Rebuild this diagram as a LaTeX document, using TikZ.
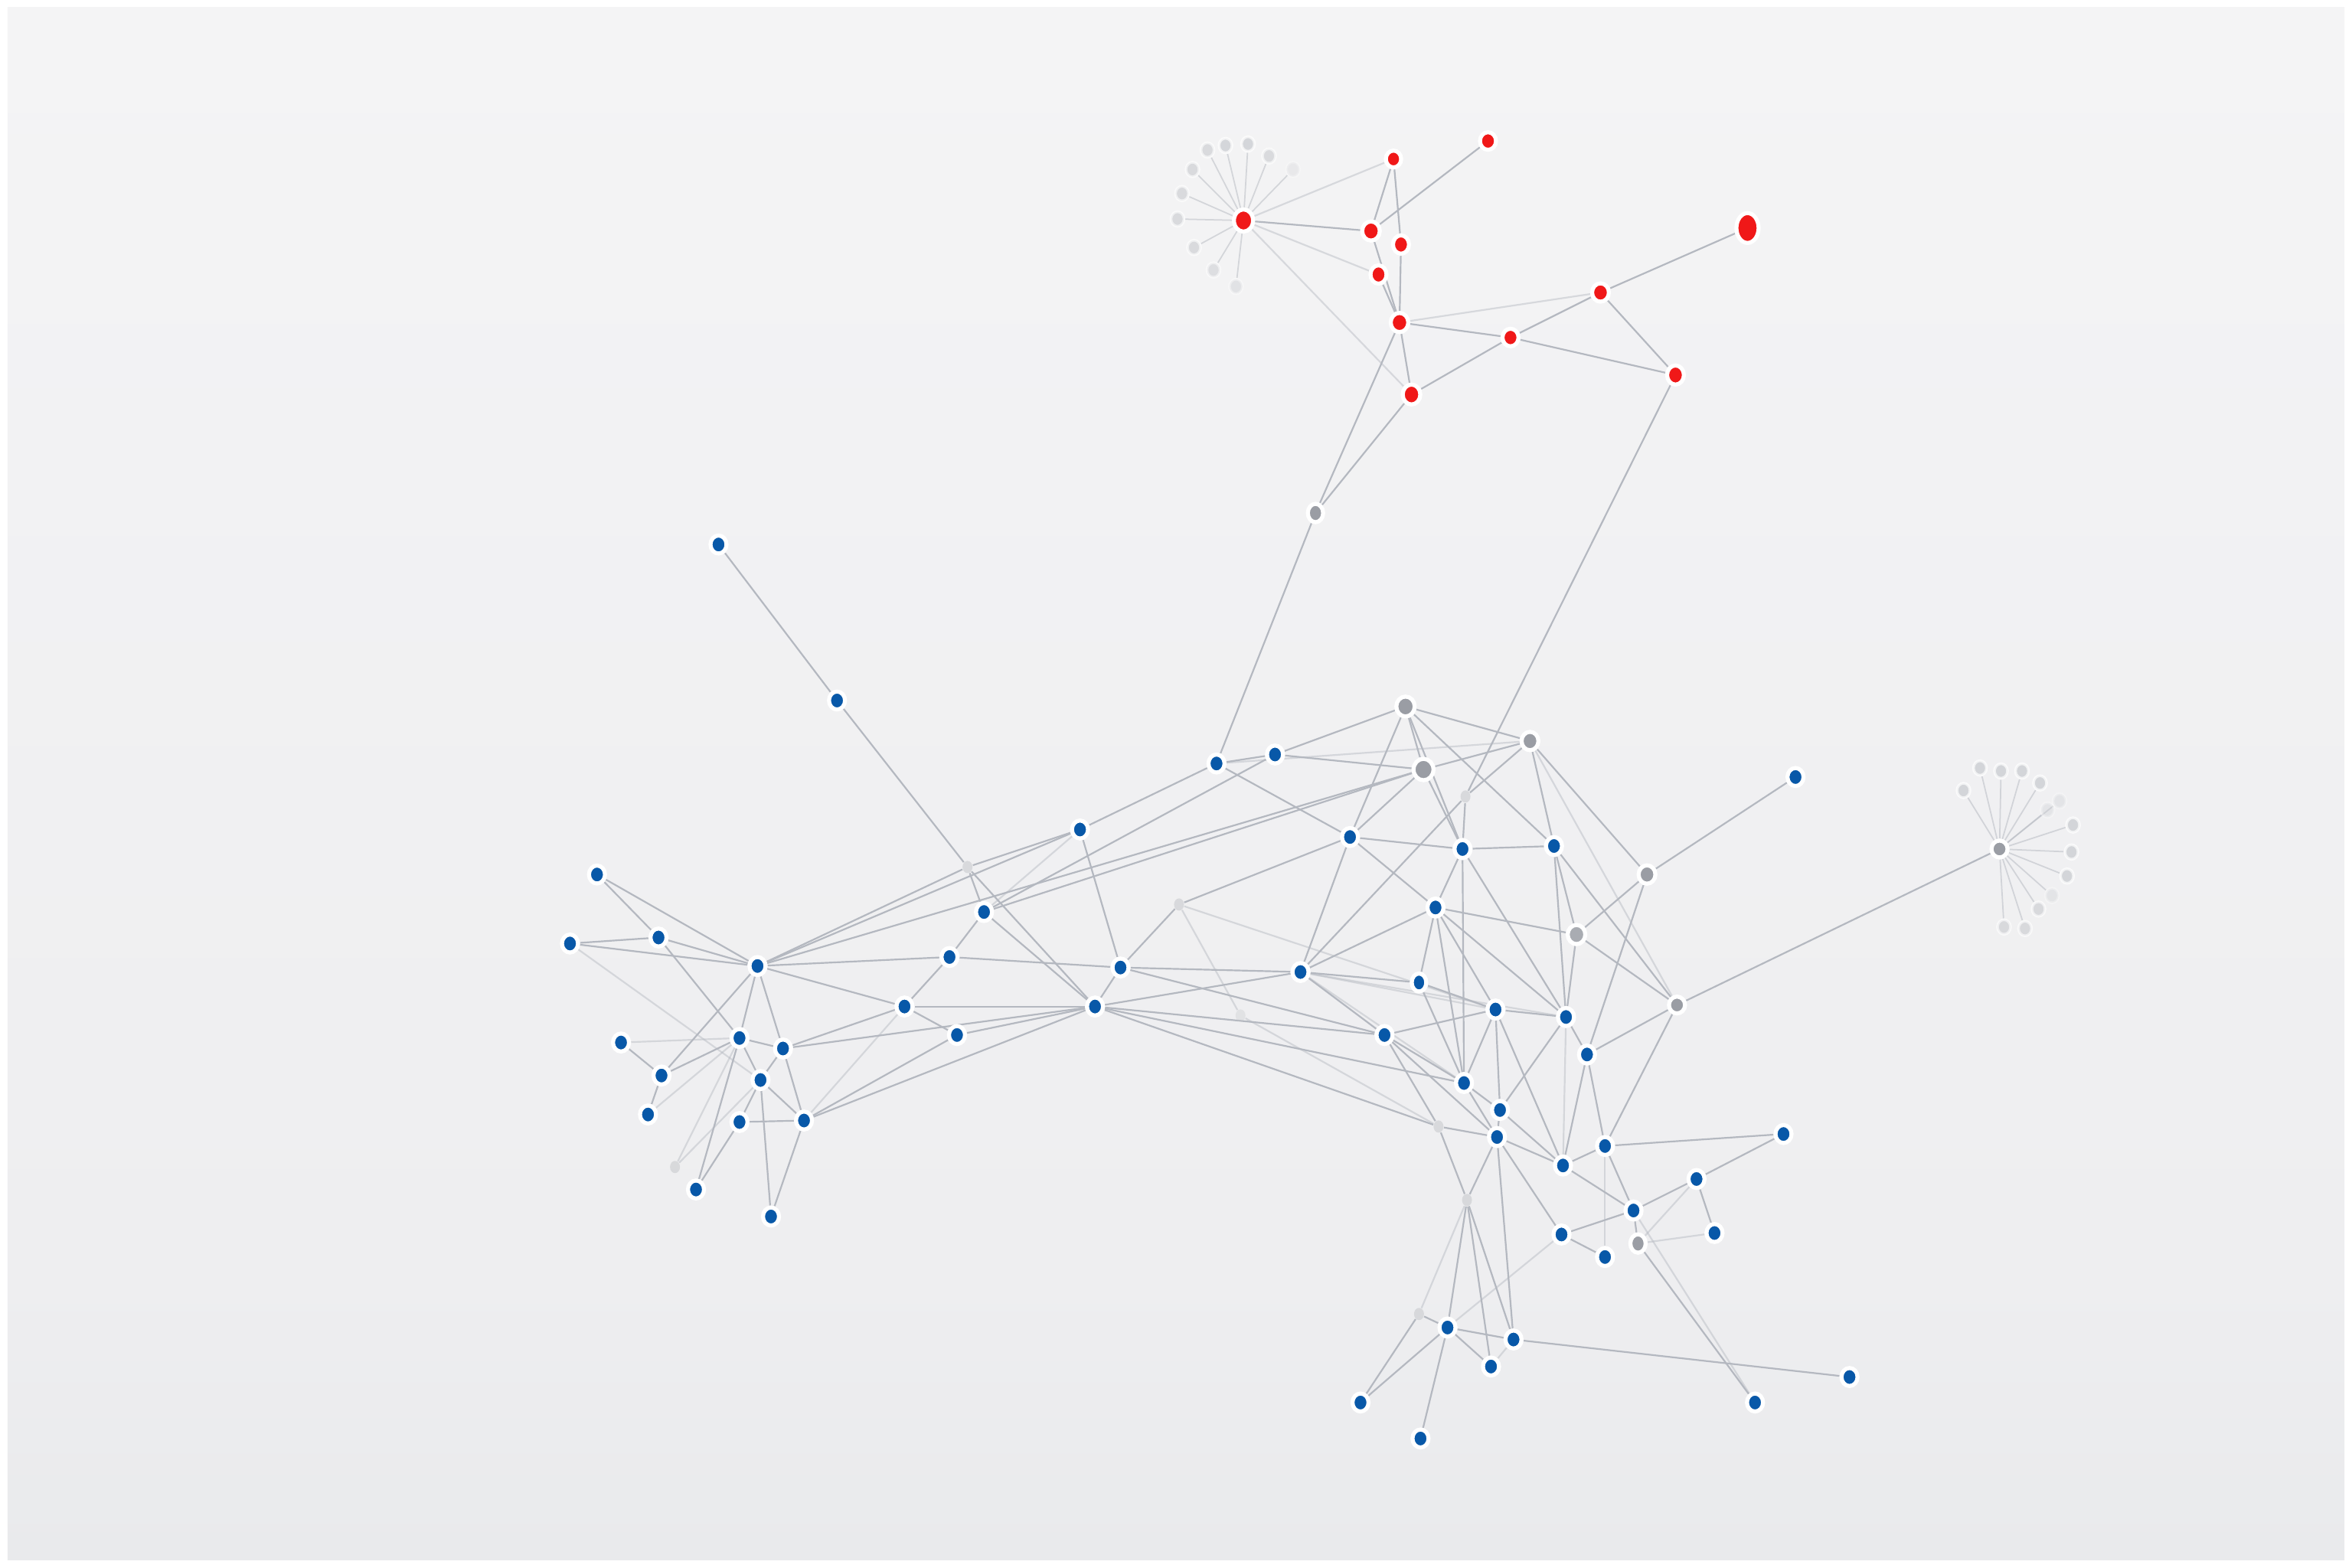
\documentclass[tikz,border=0pt]{standalone}
\usetikzlibrary{shapes.geometric}
\definecolor{netblue}{RGB}{8,88,168}
\definecolor{netred}{RGB}{240,24,24}
\definecolor{netgray}{RGB}{154,157,164}
\definecolor{edgegray}{RGB}{180,184,192}
\definecolor{fadegray}{RGB}{200,202,207}
\definecolor{bgtop}{RGB}{244,244,245}
\definecolor{bgmid}{RGB}{238,238,240}
\definecolor{bglight}{RGB}{243,243,244}
\definecolor{bgbot}{RGB}{233,234,236}
\pgfdeclarelayer{bg}
\pgfdeclarelayer{edges}
\pgfsetlayers{bg,edges,main}

\begin{document}
\begin{tikzpicture}[x=0.019592cm, y=-0.019592cm,
    bnode/.style={ellipse, inner sep=0pt, fill=netblue, draw=white, line width=1.5pt,
      minimum width=0.21cm, minimum height=0.235cm},
    rnode/.style={bnode, fill=netred, minimum width=0.23cm, minimum height=0.25cm},
    gnode/.style={bnode, fill=netgray, minimum width=0.22cm, minimum height=0.24cm},
    ghost/.style={ellipse, inner sep=0pt, fill=netgray!60, opacity=0.5,
      minimum width=0.13cm, minimum height=0.16cm},
    fannode/.style={ellipse, inner sep=0pt, fill=fadegray, draw=white, line width=1pt,
      minimum width=0.17cm, minimum height=0.19cm},
    link/.style={draw=edgegray, line width=0.62pt},
    flink/.style={link, opacity=0.45},
    fanlink/.style={draw=edgegray, line width=0.5pt, opacity=0.5}
  ]
  \useasboundingbox (0,0) rectangle (1568,1045);

  % Background
  \begin{pgfonlayer}{bg}
    \fill[white] (0,0) rectangle (1568,1045);
    \shade[top color=bgtop, bottom color=bgmid] (5,5) rectangle (1563,850);
    \shade[top color=bgmid, middle color=bglight, bottom color=bgbot] (5,850) rectangle (1563,1040);
  \end{pgfonlayer}

  % Red cluster
  \node[rnode, minimum width=0.25cm, minimum height=0.29cm] (r1) at (829,147) {};
  \node[rnode, minimum width=0.2cm, minimum height=0.22cm]  (r2) at (929,106) {};
  \node[rnode, minimum width=0.21cm, minimum height=0.23cm] (r3) at (992,94) {};
  \node[rnode] (r4) at (914,154) {};
  \node[rnode, minimum width=0.21cm, minimum height=0.24cm] (r5) at (934,163) {};
  \node[rnode, minimum width=0.21cm, minimum height=0.24cm] (r6) at (919,183) {};
  \node[rnode] (r7) at (933,215) {};
  \node[rnode, minimum width=0.21cm, minimum height=0.23cm] (r8) at (1007,225) {};
  \node[rnode, minimum width=0.22cm, minimum height=0.24cm] (r9) at (1067,195) {};
  \node[rnode, minimum width=0.29cm, minimum height=0.39cm] (r10) at (1165,152) {};
  \node[rnode, minimum width=0.22cm, minimum height=0.25cm] (r11) at (1117,250) {};
  \node[rnode, minimum width=0.23cm, minimum height=0.26cm] (r12) at (941,263) {};

  % Gray hubs
  \node[gnode, minimum width=0.2cm, minimum height=0.24cm]  (g1) at (877,342) {};
  \node[gnode, minimum width=0.24cm, minimum height=0.26cm] (g2) at (937,471) {};
  \node[gnode, minimum width=0.26cm, minimum height=0.28cm] (g3) at (949,513) {};
  \node[gnode] (g4) at (1020,494) {};
  \node[gnode] (g5) at (1098,583) {};
  \node[gnode, fill=netgray!85, minimum width=0.23cm, minimum height=0.25cm] (g6) at (1051,623) {};
  \node[gnode, minimum width=0.21cm, minimum height=0.22cm] (g7) at (1118,670) {};
  \node[gnode, minimum width=0.21cm, minimum height=0.22cm] (g8) at (1333,566) {};
  \node[gnode, minimum width=0.2cm, minimum height=0.24cm]  (g9) at (1092,829) {};

  % Faded nodes
  \node[ghost] (gf1) at (645,578) {};
  \node[ghost] (gf2) at (786,603) {};
  \node[ghost] (gf3) at (977,531) {};
  \node[ghost] (gf4) at (959,751) {};
  \node[ghost] (gf5) at (978,800) {};
  \node[ghost] (gf6) at (946,876) {};
  \node[ghost, opacity=0.3] (gf7) at (827,677) {};
  \node[ghost] (Lg)  at (450,778) {};

  % Left cluster
  \node[bnode] (a1) at (479,363) {};
  \node[bnode] (a2) at (558,467) {};
  \node[bnode] (L1) at (398,583) {};
  \node[bnode] (L2) at (380,629) {};
  \node[bnode] (L3) at (439,625) {};
  \node[bnode] (L4) at (505,644) {};
  \node[bnode] (L5) at (414,695) {};
  \node[bnode] (L6) at (493,692) {};
  \node[bnode] (L7) at (522,699) {};
  \node[bnode] (L8) at (441,717) {};
  \node[bnode] (L9) at (507,720) {};
  \node[bnode] (L10) at (432,743) {};
  \node[bnode] (L11) at (493,748) {};
  \node[bnode] (L12) at (536,747) {};
  \node[bnode] (L13) at (464,793) {};
  \node[bnode] (L14) at (514,811) {};

  % Centre
  \node[bnode] (c1) at (720,553) {};
  \node[bnode] (c2) at (656,608) {};
  \node[bnode] (c3) at (633,638) {};
  \node[bnode] (c4) at (603,671) {};
  \node[bnode] (c5) at (638,690) {};
  \node[bnode] (c6) at (730,671) {};
  \node[bnode] (c7) at (747,645) {};
  \node[bnode] (c8) at (811,509) {};
  \node[bnode] (c9) at (850,503) {};
  \node[bnode] (c10) at (867,648) {};
  \node[bnode] (d1) at (900,558) {};
  \node[bnode] (d2) at (975,566) {};
  \node[bnode] (d3) at (1036,564) {};
  \node[bnode] (d4) at (1197,518) {};
  \node[bnode] (d5) at (957,605) {};
  \node[bnode, minimum width=0.19cm] (d6) at (946,655) {};

  % Lower right
  \node[bnode] (e1) at (923,690) {};
  \node[bnode] (e2) at (997,673) {};
  \node[bnode] (e3) at (1044,678) {};
  \node[bnode] (e4) at (1058,703) {};
  \node[bnode] (e5) at (976,722) {};
  \node[bnode] (e6) at (1000,740) {};
  \node[bnode] (e7) at (998,758) {};
  \node[bnode] (e8) at (1070,764) {};
  \node[bnode] (e9) at (1042,777) {};
  \node[bnode] (e10) at (1189,756) {};
  \node[bnode] (e11) at (1131,786) {};
  \node[bnode] (e12) at (1089,807) {};
  \node[bnode] (e13) at (1143,822) {};
  \node[bnode] (e14) at (1041,823) {};
  \node[bnode] (e15) at (1070,838) {};

  % Bottom
  \node[bnode] (f1) at (965,885) {};
  \node[bnode] (f2) at (1009,893) {};
  \node[bnode] (f3) at (994,911) {};
  \node[bnode] (f4) at (907,935) {};
  \node[bnode] (f5) at (947,959) {};
  \node[bnode] (f6) at (1170,935) {};
  \node[bnode] (f7) at (1233,918) {};

  % Fans
  \foreach \i/\x/\y/\o in {1/817/97/0.7, 2/832/96/0.7, 3/846/104/0.6, 4/805/100/0.6,
      5/795/113/0.6, 6/788/129/0.6, 7/785/146/0.6, 8/796/165/0.6, 9/809/180/0.5,
      10/824/191/0.4, 11/862/113/0.25}
    \node[fannode, opacity=\o] (rf\i) at (\x,\y) {};
  \foreach \i/\x/\y/\o in {1/1309/527/0.7, 2/1320/512/0.7, 3/1334/514/0.7, 4/1348/514/0.7,
      5/1360/522/0.7, 6/1373/534/0.3, 7/1365/540/0.3, 8/1382/550/0.7, 9/1381/568/0.7,
      10/1378/584/0.7, 11/1368/597/0.3, 12/1359/606/0.6, 13/1350/619/0.6, 14/1336/618/0.6}
    \node[fannode, opacity=\o] (gr\i) at (\x,\y) {};

  % Connectors
  \begin{pgfonlayer}{edges}
    \foreach \i in {1,...,11} \draw[fanlink] (r1) -- (rf\i);
    \foreach \i in {1,...,14} \draw[fanlink] (g8) -- (gr\i);

    \foreach \a/\b in {r1/r4, r2/r4, r2/r5, r3/r4, r4/r7, r5/r7, r6/r7, r7/r8, r7/r12,
        r8/r9, r8/r11, r8/r12, r9/r10, r9/r11, r11/gf3, r12/g1, r7/g1, g1/c8}
      \draw[link] (\a) -- (\b);
    \foreach \a/\b in {r1/r2, r1/r6, r1/r12, r7/r9}
      \draw[flink] (\a) -- (\b);

    \foreach \a/\b in {a1/a2, a2/gf1, L1/L3, L1/L4, L2/L3, L2/L4, L3/L4, L3/L6, L4/L6,
        L4/L7, L4/L8, L5/L8, L6/L7, L6/L8, L6/L9, L6/L13, L7/L9, L7/L12, L8/L10,
        L9/L11, L9/L12, L9/L14, L11/L12, L11/L13, L12/L14, L4/c1, L4/gf1, L4/c3,
        L4/c4, L4/g3, L7/c4, L7/c6, L12/c5, L12/c6}
      \draw[link] (\a) -- (\b);
    \foreach \a/\b in {L2/L9, L5/L6, L10/L6, Lg/L6, Lg/L9, L12/c4}
      \draw[flink] (\a) -- (\b);

    \foreach \a/\b in {gf1/c2, gf1/c1, gf1/c6, c1/c8, c1/c7, c2/c9, c2/c3, c2/c6, c2/g3,
        c3/c4, c3/c7, c4/c5, c4/c6, c5/c6, c6/c7, c7/c10, c6/c10, c7/gf2, gf2/d1,
        c8/c9, c8/d1, c9/g2, c9/g3, c10/d1, c10/d5, c10/d6, c10/e1, c6/e1, c6/gf4,
        c6/e5, c7/e1, gf3/c10}
      \draw[link] (\a) -- (\b);
    \foreach \a/\b in {c1/c2, gf2/e2, c8/g4, c10/e3, c10/e5, c10/e2, gf2/gf7, gf7/gf4}
      \draw[flink] (\a) -- (\b);

    \foreach \a/\b in {g2/g4, g2/g3, g2/d1, g2/d2, g2/d3, g3/g4, g3/d1, g3/d2, g4/d3,
        g4/g5, g4/gf3, gf3/d2, d1/d2, d1/d5, d2/d3, d2/d5, d2/e3, d2/e5, d3/g6, d3/g7,
        d3/e3, g5/d4, g5/g6, g5/e4, d5/g6, d5/d6, d5/e2, d5/e3, d5/e5, g6/e3, g6/g7,
        d6/e2, d6/e5, g7/g8}
      \draw[link] (\a) -- (\b);
    \foreach \a/\b in {g4/g7}
      \draw[flink] (\a) -- (\b);

    \foreach \a/\b in {e1/e2, e1/e5, e1/gf4, e1/e7, e2/e3, e2/e5, e2/e6, e2/e9, e3/e4,
        e3/e6, e4/e8, e4/g7, e4/e9, g7/e8, e5/e6, e5/e7, e6/e7, e6/e9, e7/e9, e7/e14,
        e7/gf5, gf4/e7, gf4/gf5, e8/e10, e8/e9, e8/e12, e9/e12, e10/e11, e11/e12,
        e11/e13, e12/e14, e12/g9, e14/e15, g9/f6}
      \draw[link] (\a) -- (\b);
    \foreach \a/\b in {e3/e9, e8/e15, e11/g9, e13/g9, e12/f6}
      \draw[flink] (\a) -- (\b);

    \foreach \a/\b in {f1/f2, f1/f3, f1/f4, f1/f5, f2/f7, f1/gf5, f3/gf5, f2/gf5, f2/e7,
        gf6/f4, gf6/f1}
      \draw[link] (\a) -- (\b);
    \foreach \a/\b in {f2/f3, gf6/gf5, f1/e14}
      \draw[flink] (\a) -- (\b);
  \end{pgfonlayer}
\end{tikzpicture}
\end{document}
